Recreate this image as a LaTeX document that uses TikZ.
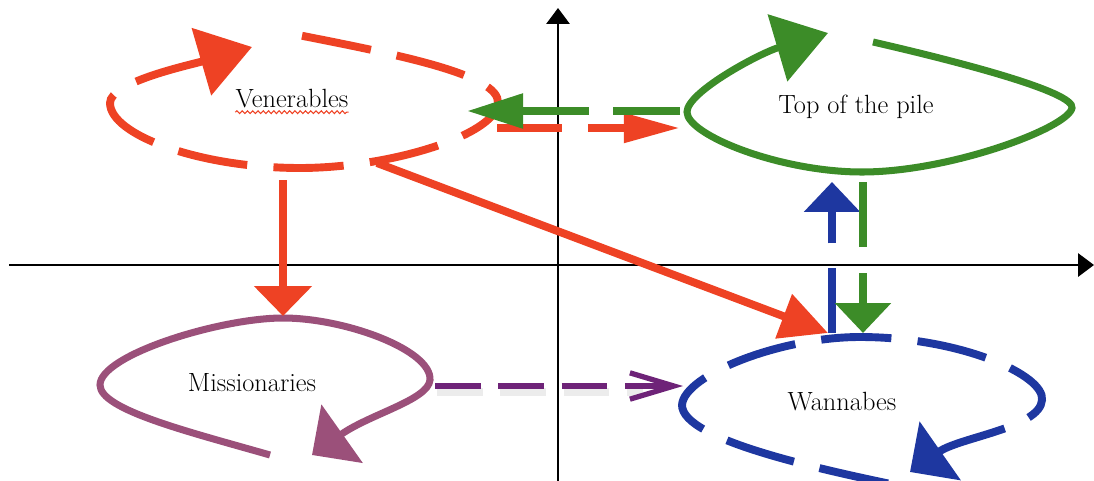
\documentclass[tikz,border=0pt]{standalone}
\usetikzlibrary{arrows.meta,decorations.pathmorphing}
\definecolor{vred}{RGB}{238,66,36}
\definecolor{tgreen}{RGB}{60,140,40}
\definecolor{wblue}{RGB}{30,55,160}
\definecolor{mpurple}{RGB}{155,80,122}
\definecolor{dpurple}{RGB}{110,35,120}

\begin{document}
\begin{tikzpicture}[x=0.02cm, y=-0.02cm,
    lbl/.style={font=\fontsize{15}{17}\selectfont, inner sep=0pt, anchor=base},
    loopdash/.style={dash pattern=on 40pt off 15pt},
    bighead/.tip={Triangle[length=30pt,width=39pt]},
    flathead/.tip={Triangle[length=21pt,width=40pt]},
    vhead/.style={-{Triangle[length=17pt,width=31pt]}}]
    \useasboundingbox (0,0) rectangle (1094,480);
    \clip (0,0) rectangle (1094,480);

    % axes
    \draw[line width=1.6pt, -{Triangle[length=9pt,width=13pt]}] (9,265) -- (1094,265);
    \draw[line width=1.6pt, -{Triangle[length=9pt,width=13pt]}] (558,482) -- (558,8);

    % labels
    \node[lbl] (ven) at (292,107) {Venerables};
    \node[lbl] (top) at (856,113) {Top of the pile};
    \node[lbl] (mis) at (252,391) {Missionaries};
    \node[lbl] (wan) at (842,410) {Wannabes};
    \draw[vred, line width=0.6pt, decorate, decoration={snake, amplitude=0.8pt, segment length=3pt}]
        ([yshift=-2.5pt]ven.south west) -- ([yshift=-2.5pt]ven.south east);

    % loops
    \draw[vred, line width=4.5pt, loopdash, bighead-]
        (252,47) .. controls (190,65) and (110,82) .. (110,103)
        .. controls (110,135) and (200,168) .. (300,168)
        .. controls (390,168) and (496,135) .. (498,103)
        .. controls (500,75) and (400,55) .. (298,35);
    \draw[tgreen, line width=4pt, -bighead]
        (873,42) .. controls (960,62) and (1075,92) .. (1072,108)
        .. controls (1068,128) and (950,172) .. (862,172)
        .. controls (780,172) and (687,135) .. (687,112)
        .. controls (687,92) and (760,53) .. (828,33);
    \draw[mpurple, line width=4pt, -flathead]
        (270,455) .. controls (190,432) and (100,410) .. (100,385)
        .. controls (100,355) and (220,318) .. (283,318)
        .. controls (345,318) and (432,350) .. (430,380)
        .. controls (428,400) and (370,414) .. (312,455);
    \draw[wblue, line width=4.5pt, loopdash, flathead-]
        (910,472) .. controls (960,437) and (1040,428) .. (1042,400)
        .. controls (1045,375) and (960,337) .. (860,337)
        .. controls (780,337) and (684,375) .. (682,405)
        .. controls (682,440) and (820,470) .. (930,492);

    % connectors
    \coordinate (ven-out) at (497,128);
    \coordinate (top-in) at (680,128);
    \coordinate (top-out) at (680,111);
    \coordinate (ven-in) at (467,111);
    \coordinate (ven-s) at (283,180);
    \coordinate (mis-n) at (283,316);
    \coordinate (ven-se) at (377,163);
    \coordinate (wan-nw) at (828,333);
    \coordinate (wan-n) at (832,333);
    \coordinate (top-s) at (832,182);
    \coordinate (top-se) at (863,182);
    \coordinate (wan-ne) at (863,333);
    \coordinate (mis-e) at (435,386);
    \coordinate (wan-w) at (683,386);

    \draw[vred, line width=4.5pt, dash pattern=on 37pt off 15pt,
        -{Triangle[length=32pt,width=16pt]}] (ven-out) -- (top-in);
    \draw[tgreen, line width=4.5pt, dash pattern=on 38pt off 14pt,
        -{Triangle[length=32pt,width=19pt]}] (top-out) -- (ven-in);
    \draw[vred, line width=4.5pt, -{Triangle[length=17pt,width=32pt]}] (ven-s) -- (mis-n);
    \draw[vred, line width=4.5pt, -{Triangle[length=27pt,width=26pt]}] (ven-se) -- (wan-nw);
    \draw[wblue, line width=4.5pt, dash pattern=on 37pt off 14pt, vhead] (wan-n) -- (top-s);
    \draw[tgreen, line width=4.5pt, dash pattern=on 37pt off 15pt, vhead] (top-se) -- (wan-ne);
    \draw[gray, opacity=0.15, line width=5pt, dash pattern=on 26pt off 10pt]
        ([shift={(2,6)}]mis-e) -- ([shift={(-40,6)}]wan-w);
    \draw[dpurple, line width=3pt, dash pattern=on 26pt off 10pt,
        -{Straight Barb[length=25pt,width=15pt]}] (mis-e) -- (wan-w);
\end{tikzpicture}
\end{document}
